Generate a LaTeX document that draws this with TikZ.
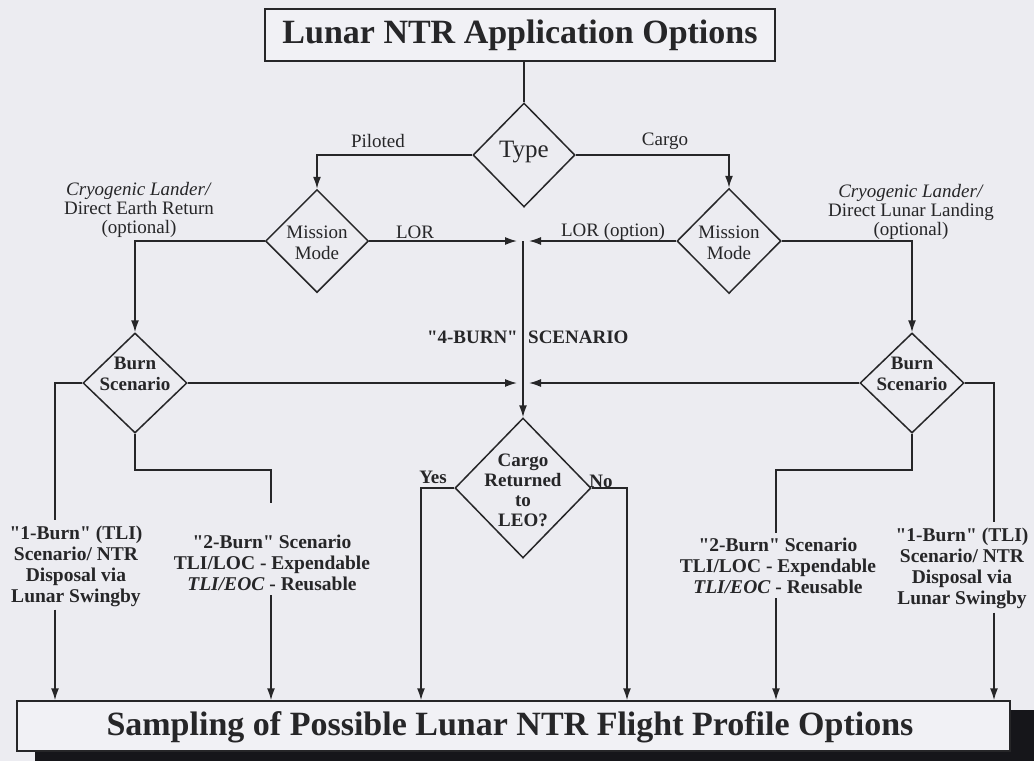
\documentclass[tikz,border=0pt]{standalone}
\usepackage{fontspec}
\setmainfont{Liberation Serif}[Ligatures=TeXOff]
\usetikzlibrary{shapes.geometric,arrows.meta,calc}

\definecolor{paper}{RGB}{236,236,241}
\definecolor{boxpaper}{RGB}{241,241,245}
\definecolor{ink}{RGB}{38,38,40}
\definecolor{shadowink}{RGB}{22,22,26}

\begin{document}
\begin{tikzpicture}[x=1pt,y=-1pt,
  every node/.style={text=ink},
  conn/.style={draw=ink,line width=1.5pt},
  arr/.style={conn,-{Latex[length=12pt,width=8pt]}},
  decision/.style={diamond,draw=ink,line width=1.5pt,inner sep=0pt,
    minimum width=104pt,minimum height=102pt},
  headbox/.style={draw=ink,line width=1.5pt,fill=boxpaper,inner sep=0pt,
    font=\fontsize{34}{36}\selectfont\bfseries},
  dtext/.style={align=center,inner sep=0pt,font=\fontsize{19}{21}\selectfont},
  dbold/.style={dtext,font=\fontsize{19}{21}\selectfont\bfseries},
  lbl/.style={inner sep=0pt,font=\fontsize{19}{21}\selectfont},
  blbl/.style={inner sep=0pt,font=\fontsize{19}{21}\selectfont\bfseries},
  note/.style={align=center,inner sep=0pt,font=\fontsize{19}{19}\selectfont},
  outcome/.style={align=center,inner sep=0pt,font=\fontsize{19.5}{21}\selectfont\bfseries}
]
% page
\fill[paper] (0,0) rectangle (1034,761);
\useasboundingbox (0,0) rectangle (1034,761);

% heading box
\node[headbox,minimum width=510pt,minimum height=52pt] (title) at (520,35) {Lunar NTR Application Options};

% decision diamonds
\node[decision,minimum width=102pt,minimum height=104pt] (typeD) at (524,155) {};
\node[lbl,font=\fontsize{25}{26}\selectfont] at (524,152) {Type};

\node[decision,minimum width=103pt,minimum height=103pt] (missionL) at (317,241) {};
\node[dtext] at (317,243) {Mission\\Mode};
\node[decision,minimum width=104pt,minimum height=105pt] (missionR) at (729,241) {};
\node[dtext] at (729,243) {Mission\\Mode};

\node[decision,minimum height=100pt] (burnL) at (135,383) {};
\node[dbold] at (135,374) {Burn\\Scenario};
\node[decision,minimum height=100pt] (burnR) at (912,383) {};
\node[dbold] at (912,374) {Burn\\Scenario};

\node[decision,minimum width=136pt,minimum height=140pt] (cargo) at (523,488) {};
\node[dbold,font=\fontsize{19}{20}\selectfont\bfseries] at (523,490) {Cargo\\Returned\\to\\LEO?};

% result box with its drop shadow
\fill[shadowink] (35,710) rectangle (1034,761);
\node[headbox,minimum width=993pt,minimum height=50pt] (bottom) at (513.5,726) {};
\node[inner sep=0pt,font=\fontsize{34}{36}\selectfont\bfseries] at (510,727) {Sampling of Possible Lunar NTR Flight Profile Options};

% outcome texts
\node[outcome] (oneL) at (76,566) {"1-Burn" (TLI)\\Scenario/ NTR\\Disposal via\\Lunar Swingby};
\node[outcome] (twoL) at (272,563) {"2-Burn" Scenario\\TLI/LOC - Expendable\\\textit{TLI/EOC} - Reusable};
\node[outcome] (twoR) at (778,566) {"2-Burn" Scenario\\TLI/LOC - Expendable\\\textit{TLI/EOC} - Reusable};
\node[outcome] (oneR) at (962,568) {"1-Burn" (TLI)\\Scenario/ NTR\\Disposal via\\Lunar Swingby};

% helper points
\coordinate (spine) at (523,241);
\coordinate (spineB) at (523,383);
\coordinate (xL) at (55,0);
\coordinate (xR) at (994,0);
\coordinate (yesX) at (421,0);
\coordinate (noX) at (627,0);
\coordinate (kneeL) at (271,470);
\coordinate (kneeR) at (776,470);

% connectors
\draw[conn] (typeD.north |- title.south) -- (typeD.north);
\draw[arr] (typeD.west) -| (missionL.north);
\draw[arr] (typeD.east) -| (missionR.north);

\draw[arr] (missionL.east) -- ($(spine)+(-6,0)$);
\draw[arr] (missionR.west) -- ($(spine)+(6,0)$);
\draw[arr] (spine) -- (cargo.north);

\draw[arr] (missionL.west) -| (burnL.north);
\draw[arr] (missionR.east) -| (burnR.north);

\draw[arr] (burnL.east) -- ($(spineB)+(-6,0)$);
\draw[arr] (burnR.west) -- ($(spineB)+(6,0)$);

\draw[conn] (burnL.west) -| ($(xL |- oneL.north)+(0,-5)$);
\draw[arr] ($(xL |- oneL.south)+(0,3)$) -- (xL |- bottom.north);
\draw[conn] (burnL.south) |- (kneeL) -- ($(kneeL |- twoL.north)+(0,-32)$);
\draw[arr] ($(kneeL |- twoL.south)+(0,4)$) -- (kneeL |- bottom.north);

\draw[arr] (cargo.west) -| (yesX |- bottom.north);
\draw[arr] (cargo.east) -| (noX |- bottom.north);

\draw[conn] (burnR.south) |- (kneeR) -- ($(kneeR |- twoR.north)+(0,-5)$);
\draw[arr] ($(kneeR |- twoR.south)+(0,4)$) -- (kneeR |- bottom.north);
\draw[conn] (burnR.east) -| ($(xR |- oneR.north)+(0,-5)$);
\draw[arr] ($(xR |- oneR.south)+(0,4)$) -- (xR |- bottom.north);

% connector labels
\node[lbl] at (378,141) {Piloted};
\node[lbl] at (665,141) {Cargo};
\node[lbl] at (415,232) {LOR};
\node[lbl] at (613,232) {LOR (option)};
\node[note] at (139,210) {\textit{Cryogenic Lander/}\\Direct Earth Return\\(optional)};
\node[note] at (911,212) {\textit{Cryogenic Lander/}\\Direct Lunar Landing\\(optional)};
\node[blbl,anchor=east] at (518,337) {"4-BURN"};
\node[blbl,anchor=west] at (528,337) {SCENARIO};
\node[blbl] at (433,477) {Yes};
\node[blbl] at (601,481) {No};
\end{tikzpicture}
\end{document}
